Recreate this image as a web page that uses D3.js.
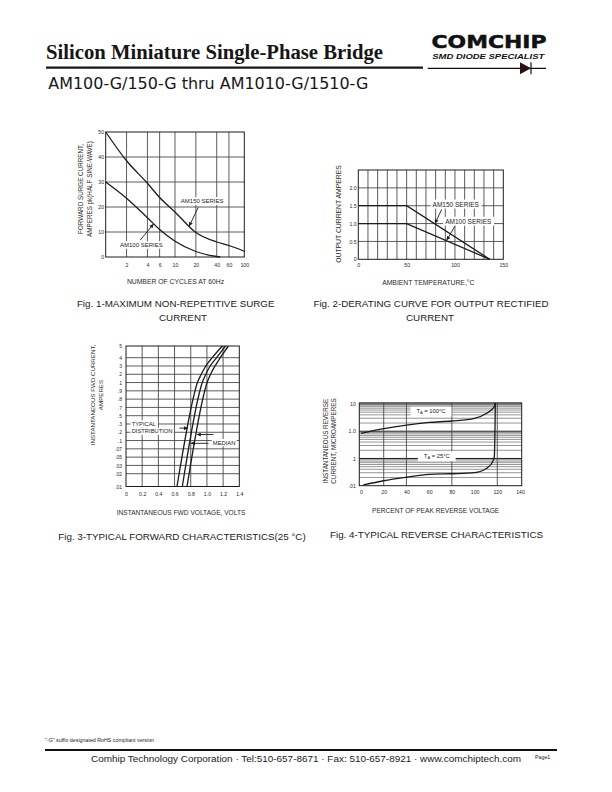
<!DOCTYPE html>
<html><head><meta charset="utf-8">
<script src="https://cdn.jsdelivr.net/npm/d3@7/dist/d3.min.js"></script>
<style>
html,body{margin:0;padding:0;background:#fff;}
svg{display:block;}
</style></head>
<body>
<svg id="page" width="612" height="792" xmlns="http://www.w3.org/2000/svg"></svg>
<script>
// ---------------- DATA ----------------
const headerTitle = "Silicon Miniature Single-Phase Bridge";
const headerSubtitle = "AM100-G/150-G thru AM1010-G/1510-G";
const logoName = "COMCHIP";
const logoTagline = "SMD DIODE SPECIALIST";
const footNote = "\"-G\" suffix designated RoHS compliant version";
const footerText = "Comhip Technology Corporation \u00B7 Tel:510-657-8671 \u00B7  Fax: 510-657-8921 \u00B7  www.comchiptech.com";
const pageLabel = "Page1";

// Fig. 1 - surge current vs cycles
const fig1Caption = ["Fig. 1-MAXIMUM NON-REPETITIVE SURGE", "CURRENT"];
const fig1YTitle = ["FORWARD SURGE CURRENT,", "AMPERES pk(HALF SINE-WAVE)"];
const fig1XTitle = "NUMBER OF CYCLES AT 60Hz";
const fig1XTicks = [2, 4, 6, 10, 20, 40, 60, 100];
const fig1XTickLabels = ["2", "4", "6", "10", "20", "40", "60", "100"];
const fig1YTicks = [0, 10, 20, 30, 40, 50];
const fig1YTickLabels = ["0", "10", "20", "30", "40", "50"];
const fig1Cycles150 = [1, 2, 4, 6, 10, 20, 40, 60, 100];
const fig1Surge150 = [50, 38.5, 29.5, 23.8, 18.0, 9.8, 6.0, 4.6, 2.3];
const fig1Cycles100 = [1, 2, 4, 6, 10, 20, 40, 45];
const fig1Surge100 = [30, 23.5, 15.7, 11.0, 6.3, 2.2, 0.2, 0];
const fig1SeriesLabels = ["AM150 SERIES", "AM100 SERIES"];

// Fig. 2 - derating
const fig2Caption = ["Fig. 2-DERATING CURVE FOR OUTPUT RECTIFIED", "CURRENT"];
const fig2YTitle = "OUTPUT CURRENT AMPERES";
const fig2XTitle = "AMBIENT TEMPERATURE,\u00B0C";
const fig2XTicks = [0, 50, 100, 150];
const fig2XTickLabels = ["0", "50", "100", "150"];
const fig2YTicks = [0, 0.5, 1.0, 1.5, 2.0];
const fig2YTickLabels = ["0", "0.5", "1.0", "1.5", "2.0"];
const fig2GridX = [10, 20, 30, 40, 50, 60, 70, 80, 90, 100, 110, 120, 130, 140];
const fig2Temp = [0, 50, 136];
const fig2Am150 = [1.5, 1.5, 0];
const fig2Am100 = [1.0, 1.0, 0];
const fig2SeriesLabels = ["AM150 SERIES", "AM100 SERIES"];

// Fig. 3 - forward characteristics
const fig3Caption = "Fig. 3-TYPICAL FORWARD CHARACTERISTICS(25 \u00B0C)";
const fig3YTitle = ["INSTANTANEOUS FWD CURRENT,", "AMPERES"];
const fig3XTitle = "INSTANTANEOUS FWD VOLTAGE, VOLTS";
const fig3XTicks = [0, 0.2, 0.4, 0.6, 0.8, 1.0, 1.2, 1.4];
const fig3XTickLabels = ["0", "0.2", "0.4", "0.6", "0.8", "1.0", "1.2", "1.4"];
const fig3Levels = [5, 4, 3, 2, 1, 0.9, 0.8, 0.7, 0.5, 0.3, 0.2, 0.1, 0.07, 0.05, 0.03, 0.02, 0.01];
const fig3LevelLabels = ["5", "4", "3", "2", "1", ".9", ".8", ".7", ".5", ".3", ".2", ".1", ".07", ".05", ".03", ".02", ".01"];
const fig3Current = [0.01, 0.85, 0.98, 2, 3, 4, 5];
const fig3VoltLow = [0.63, 0.84, 0.875, 0.93, 0.986, 1.065, 1.19];
const fig3VoltMedian = [0.696, 0.90, 0.935, 0.986, 1.04, 1.12, 1.23];
const fig3VoltHigh = [0.754, 0.96, 0.995, 1.045, 1.10, 1.165, 1.265];
const fig3Notes = ["TYPICAL", "DISTRIBUTION", "MEDIAN"];

// Fig. 4 - reverse characteristics
const fig4Caption = "Fig. 4-TYPICAL REVERSE CHARACTERISTICS";
const fig4YTitle = ["INSTANTANEOUS REVERSE", "CURRENT, MICROAMPERES"];
const fig4XTitle = "PERCENT OF PEAK REVERSE VOLTAGE";
const fig4XTicks = [0, 20, 40, 60, 80, 100, 120, 140];
const fig4XTickLabels = ["0", "20", "40", "60", "80", "100", "120", "140"];
const fig4YTicks = [0.01, 0.1, 1, 10];
const fig4YTickLabels = [".01", ".1", "1.0", "10"];
const fig4GridX = [20, 40, 80, 120];
const fig4Pct100 = [0, 20, 40, 60, 80, 100, 110.6, 117.4, 118.3];
const fig4Cur100 = [0.84, 1.25, 1.69, 2.1, 2.38, 2.98, 4.56, 7.96, 11];
const fig4Pct25 = [2, 20, 40, 60, 80, 100, 110.6, 115.9, 117.4, 118.3];
const fig4Cur25 = [0.0106, 0.0152, 0.0204, 0.026, 0.0275, 0.030, 0.0435, 0.076, 0.116, 11];
const fig4Notes = [["T", "A", " = 100\u00B0C"], ["T", "A", " = 25\u00B0C"]];

// ---------------- DRAWING ----------------
const svg = d3.select("#page");
const SANS = "'Liberation Sans', Arial, Helvetica, sans-serif";
const INK = "#1c1c1c";
const GRID = "#4a4a4a";
const GRID_LIGHT = "#8a8a8a";

svg.append("rect").attr("width", 612).attr("height", 792).attr("fill", "#fff");

const defs = svg.append("defs");
defs.append("marker").attr("id", "arrow").attr("viewBox", "0 0 10 10")
  .attr("refX", 10).attr("refY", 5).attr("markerWidth", 5).attr("markerHeight", 4)
  .attr("markerUnits", "userSpaceOnUse").attr("orient", "auto")
  .append("path").attr("d", "M0,0L10,5L0,10Z").attr("fill", INK);

function text(g, x, y, s, o = {}) {
  const t = g.append("text").attr("x", x).attr("y", y).text(s)
    .attr("font-family", o.family || SANS).attr("font-size", o.size || 7)
    .attr("fill", o.fill || INK).attr("text-anchor", o.anchor || "start");
  if (o.weight) t.attr("font-weight", o.weight);
  if (o.style) t.attr("font-style", o.style);
  if (o.stroke) t.attr("stroke", o.fill || INK).attr("stroke-width", o.stroke);
  if (o.len) t.attr("textLength", o.len).attr("lengthAdjust", "spacingAndGlyphs");
  if (o.rotate) t.attr("transform", `rotate(${o.rotate},${x},${y})`);
  return t;
}
function boxBehind(g, t, px, py) {
  const b = t.node().getBBox();
  g.insert("rect", () => t.node()).attr("x", b.x - px).attr("y", b.y - py)
    .attr("width", b.width + 2 * px).attr("height", b.height + 2 * py).attr("fill", "#fff");
}
function tickLabels(g, axis, tx, ty, size) {
  const a = g.append("g").attr("transform", `translate(${tx},${ty})`).call(axis);
  a.select(".domain").remove();
  a.selectAll(".tick line").remove();
  a.attr("font-family", SANS).attr("font-size", size);
  a.selectAll("text").attr("fill", "#2a2a2a");
  return a;
}
function vgrid(g, vals, x, y0, y1, color, w) {
  g.append("g").selectAll("line").data(vals).join("line")
    .attr("x1", d => x(d)).attr("x2", d => x(d)).attr("y1", y0).attr("y2", y1)
    .attr("stroke", color).attr("stroke-width", w);
}
function hgrid(g, vals, y, x0, x1, color, w) {
  g.append("g").selectAll("line").data(vals).join("line")
    .attr("y1", d => y(d)).attr("y2", d => y(d)).attr("x1", x0).attr("x2", x1)
    .attr("stroke", color).attr("stroke-width", w);
}
function frame(g, x0, y0, x1, y1) {
  g.append("rect").attr("x", x0).attr("y", y0).attr("width", x1 - x0).attr("height", y1 - y0)
    .attr("fill", "none").attr("stroke", INK).attr("stroke-width", 1);
}
function curve(g, xs, ys, x, y, curveType) {
  const pts = d3.zip(xs, ys);
  g.append("path").datum(pts)
    .attr("d", d3.line().x(d => x(d[0])).y(d => y(d[1])).curve(curveType || d3.curveMonotoneX))
    .attr("fill", "none").attr("stroke", INK).attr("stroke-width", 1.3);
}
function arrow(g, x0, y0, x1, y1) {
  g.append("line").attr("x1", x0).attr("y1", y0).attr("x2", x1).attr("y2", y1)
    .attr("stroke", INK).attr("stroke-width", 0.9).attr("marker-end", "url(#arrow)");
}

// ---------- Header ----------
const hdr = svg.append("g");
text(hdr, 46, 58.5, headerTitle, { family: "'Liberation Serif','Times New Roman',serif", weight: "bold", size: 20.5, len: 337, fill: "#161616" });
hdr.append("line").attr("x1", 46).attr("x2", 423).attr("y1", 67.7).attr("y2", 67.7).attr("stroke", "#161616").attr("stroke-width", 2.2);
text(hdr, 48.3, 89.3, headerSubtitle, { family: "'DejaVu Sans', Verdana, sans-serif", size: 16, len: 320, fill: "#161616" });
text(hdr, 431.5, 47.5, logoName, { family: "'DejaVu Sans', Arial, sans-serif", weight: "bold", size: 18, len: 115, fill: "#111", stroke: 0.5 });
text(hdr, 432.3, 59.2, logoTagline, { family: SANS, weight: "bold", style: "italic", size: 6.8, len: 112, fill: "#111" });
hdr.append("line").attr("x1", 427.7).attr("x2", 546).attr("y1", 68.3).attr("y2", 68.3).attr("stroke", "#111").attr("stroke-width", 1.2);
hdr.append("path").attr("d", "M520,62.3L531,68.3L520,74.2Z").attr("fill", "#2e1010");
hdr.append("line").attr("x1", 531).attr("x2", 531).attr("y1", 62.3).attr("y2", 74.2).attr("stroke", "#111").attr("stroke-width", 1.2);

// ---------- Fig. 1 ----------
{
  const g = svg.append("g");
  const x = d3.scaleLog().domain([1, 100]).range([105.7, 244.3]);
  const y = d3.scaleLinear().domain([0, 50]).range([257, 132]);
  vgrid(g, fig1XTicks.slice(0, -1), x, y(0), y(50), GRID, 0.9);
  hgrid(g, fig1YTicks.slice(1, -1), y, x(1), x(100), GRID, 0.9);
  frame(g, x(1), y(50), x(100), y(0));
  curve(g, fig1Cycles150, fig1Surge150, x, y);
  curve(g, fig1Cycles100, fig1Surge100, x, y);
  tickLabels(g, d3.axisLeft(y).tickValues(fig1YTicks).tickFormat((d, i) => fig1YTickLabels[i]).tickSize(0).tickPadding(1.6), x(1), 0, 5.2);
  tickLabels(g, d3.axisBottom(x).tickValues(fig1XTicks).tickFormat((d, i) => fig1XTickLabels[i]).tickSize(0).tickPadding(6.3), 0, y(0), 5.2);
  const l1 = text(g, x(24.7), y(22.4) + 2, fig1SeriesLabels[0], { size: 6, anchor: "middle" });
  boxBehind(g, l1, 1.5, 0.8);
  const l2 = text(g, x(3.27), y(4.8) + 2, fig1SeriesLabels[1], { size: 6, anchor: "middle" });
  boxBehind(g, l2, 1.5, 0.8);
  arrow(g, x(21.6), y(19.8), x(16), y(12.3));
  arrow(g, x(3.16), y(6.8), x(4.9), y(13.2));
  text(g, 83.2, 189, fig1YTitle[0], { size: 6.3, anchor: "middle", rotate: -90, fill: "#2a2a2a" });
  text(g, 92.2, 189, fig1YTitle[1], { size: 6.3, anchor: "middle", rotate: -90, fill: "#2a2a2a" });
  text(g, 175.5, 284.4, fig1XTitle, { size: 6.8, anchor: "middle", fill: "#2a2a2a" });
  text(g, 175.7, 307, fig1Caption[0], { size: 9.8, anchor: "middle", fill: "#222" });
  text(g, 183, 320.5, fig1Caption[1], { size: 9.8, anchor: "middle", fill: "#222" });
}

// ---------- Fig. 2 ----------
{
  const g = svg.append("g");
  const x = d3.scaleLinear().domain([0, 150]).range([358.3, 503.3]);
  const y = d3.scaleLinear().domain([0, 2.5]).range([259.3, 170]);
  vgrid(g, fig2GridX, x, y(0), y(2.5), GRID, 0.9);
  hgrid(g, fig2YTicks.slice(1), y, x(0), x(150), GRID, 0.9);
  frame(g, x(0), y(2.5), x(150), y(0));
  curve(g, fig2Temp, fig2Am150, x, y, d3.curveLinear);
  curve(g, fig2Temp, fig2Am100, x, y, d3.curveLinear);
  tickLabels(g, d3.axisLeft(y).tickValues(fig2YTicks).tickFormat((d, i) => fig2YTickLabels[i]).tickSize(0).tickPadding(1.7), x(0), 0, 5.2);
  tickLabels(g, d3.axisBottom(x).tickValues(fig2XTicks).tickFormat((d, i) => fig2XTickLabels[i]).tickSize(0).tickPadding(4), 0, y(0), 5.2);
  const l1 = text(g, x(100.8), y(1.54) + 2.3, fig2SeriesLabels[0], { size: 6.5, anchor: "middle" });
  boxBehind(g, l1, 2, 1);
  const l2 = text(g, x(113.8), y(1.06) + 2.3, fig2SeriesLabels[1], { size: 6.5, anchor: "middle" });
  boxBehind(g, l2, 2, 1);
  arrow(g, x(86.3), y(1.40), x(79.3), y(1.0));
  arrow(g, x(100), y(0.93), x(91.4), y(0.53));
  text(g, 340.8, 214, fig2YTitle, { size: 6.8, anchor: "middle", rotate: -90, fill: "#2a2a2a" });
  text(g, 428.3, 285, fig2XTitle, { size: 6.8, anchor: "middle", fill: "#2a2a2a" });
  text(g, 431, 307, fig2Caption[0], { size: 9.8, anchor: "middle", fill: "#222" });
  text(g, 430, 320.5, fig2Caption[1], { size: 9.8, anchor: "middle", fill: "#222" });
}

// ---------- Fig. 3 ----------
{
  const g = svg.append("g");
  const x = d3.scaleLinear().domain([0, 1.4]).range([126, 239.3]);
  const idx = d3.scaleLinear().domain([0, 1, fig3Levels.length - 2, fig3Levels.length - 1]).range([346, 357.7, 473.7, 486.5]);
  const y = d3.scaleLinear().domain(fig3Levels).range(fig3Levels.map((d, i) => idx(i)));
  vgrid(g, fig3XTicks.slice(1, -1), x, y(5), y(0.01), GRID, 0.9);
  hgrid(g, fig3Levels.slice(1, -1), y, x(0), x(1.4), GRID, 0.9);
  frame(g, x(0), y(5), x(1.4), y(0.01));
  const n1 = text(g, x(0.07), y(0.3) + 1.8, fig3Notes[0], { size: 5.8 });
  boxBehind(g, n1, 1.2, 0.6);
  const n2 = text(g, x(0.07), y(0.21) + 1.8, fig3Notes[1], { size: 5.8 });
  boxBehind(g, n2, 1.2, 0.6);
  const n3 = text(g, x(1.073), y(0.092) + 1.8, fig3Notes[2], { size: 5.8 });
  boxBehind(g, n3, 1.2, 0.6);
  curve(g, fig3VoltLow, fig3Current, x, y);
  curve(g, fig3VoltMedian, fig3Current, x, y);
  curve(g, fig3VoltHigh, fig3Current, x, y);
  arrow(g, x(0.66), y(0.25), x(0.765), y(0.25));
  arrow(g, x(1.08), y(0.173), x(0.875), y(0.173));
  arrow(g, x(1.02), y(0.09), x(0.80), y(0.09));
  tickLabels(g, d3.axisLeft(y).tickValues(fig3Levels).tickFormat((d, i) => fig3LevelLabels[i]).tickSize(0).tickPadding(4), x(0), 0, 5);
  tickLabels(g, d3.axisBottom(x).tickValues(fig3XTicks).tickFormat((d, i) => fig3XTickLabels[i]).tickSize(0).tickPadding(5.6), 0, y(0.01), 5.2);
  text(g, 95, 395, fig3YTitle[0], { size: 6.2, anchor: "middle", rotate: -90, fill: "#2a2a2a" });
  text(g, 103, 395, fig3YTitle[1], { size: 6.2, anchor: "middle", rotate: -90, fill: "#2a2a2a" });
  text(g, 181, 515.3, fig3XTitle, { size: 6.6, anchor: "middle", fill: "#2a2a2a" });
  text(g, 182, 539.5, fig3Caption, { size: 9.8, anchor: "middle", fill: "#222" });
}

// ---------- Fig. 4 ----------
{
  const g = svg.append("g");
  const x = d3.scaleLinear().domain([0, 140]).range([361, 520]);
  const y = d3.scaleLog().domain([0.01, 10]).range([485.7, 404]);
  const top = y(11), left = x(-1.5), right = x(141.5);
  const minor = [];
  [0.01, 0.1, 1].forEach(dec => { for (let k = 2; k <= 9; k++) minor.push(dec * k); });
  hgrid(g, minor, y, left, right, GRID_LIGHT, 0.9);
  hgrid(g, [0.1, 1, 10], y, left, right, INK, 1);
  vgrid(g, fig4GridX, x, top, y(0.01), GRID, 0.9);
  frame(g, left, top, right, y(0.01));
  fig4Notes.forEach((parts, i) => {
    const pos = i === 0 ? [61.6, 5.5] : [66.7, 0.126];
    const t = g.append("text").attr("x", x(pos[0])).attr("y", y(pos[1]) + 2)
      .attr("font-family", SANS).attr("font-size", 5.8).attr("fill", INK).attr("text-anchor", "middle");
    t.append("tspan").text(parts[0]);
    t.append("tspan").attr("font-size", 4).attr("dy", 1.2).text(parts[1]);
    t.append("tspan").attr("dy", -1.2).text(parts[2]);
    boxBehind(g, t, 6, 1.4);
  });
  curve(g, fig4Pct100, fig4Cur100, x, y);
  curve(g, fig4Pct25, fig4Cur25, x, y);
  tickLabels(g, d3.axisLeft(y).tickValues(fig4YTicks).tickFormat((d, i) => fig4YTickLabels[i]).tickSize(0).tickPadding(3.5), left, 0, 5.2);
  tickLabels(g, d3.axisBottom(x).tickValues(fig4XTicks).tickFormat((d, i) => fig4XTickLabels[i]).tickSize(0).tickPadding(4.7), 0, y(0.01), 5.2);
  text(g, 328, 441, fig4YTitle[0], { size: 6.3, anchor: "middle", rotate: -90, fill: "#2a2a2a" });
  text(g, 335.5, 441, fig4YTitle[1], { size: 6.3, anchor: "middle", rotate: -90, fill: "#2a2a2a" });
  text(g, 435.6, 513, fig4XTitle, { size: 6.6, anchor: "middle", fill: "#2a2a2a" });
  text(g, 436.5, 538, fig4Caption, { size: 9.8, anchor: "middle", fill: "#222" });
}

// ---------- Footer ----------
const ftr = svg.append("g");
text(ftr, 45, 742, footNote, { size: 5.3, fill: "#222" });
ftr.append("line").attr("x1", 45).attr("x2", 557).attr("y1", 750).attr("y2", 750).attr("stroke", "#111").attr("stroke-width", 1.8);
text(ftr, 91, 762.3, footerText, { size: 9.3, len: 430, fill: "#1a1a1a" });
text(ftr, 535, 759, pageLabel, { size: 5.3, fill: "#222" });
</script>
</body></html>
